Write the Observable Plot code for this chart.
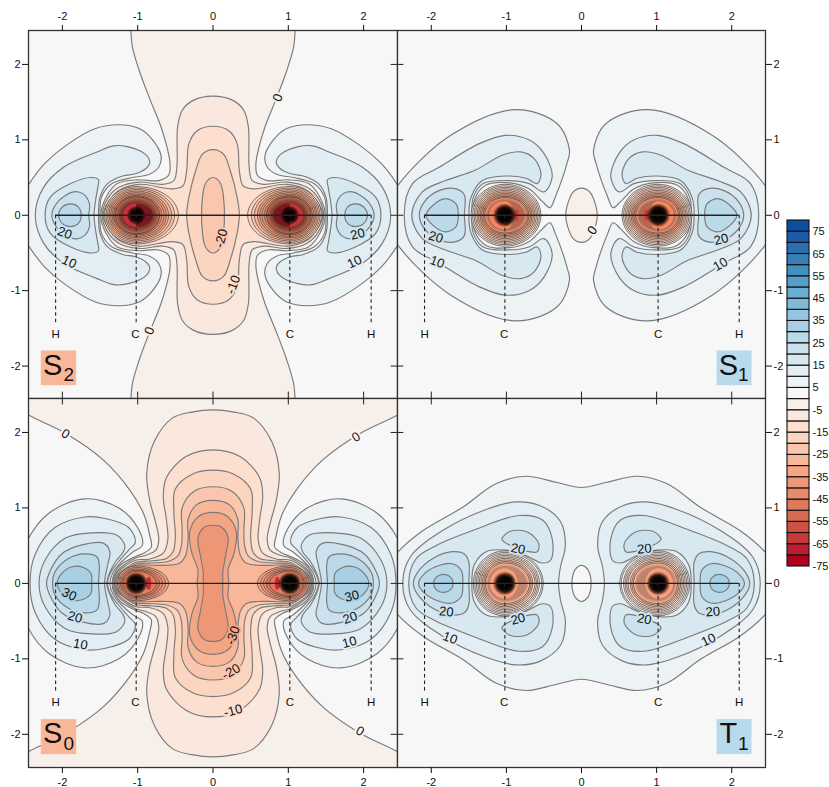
<!DOCTYPE html>
<html><head><meta charset="utf-8">
<script src="https://cdn.jsdelivr.net/npm/d3@7"></script>
<script src="https://cdn.jsdelivr.net/npm/@observablehq/plot@0.6"></script>
<style>html,body{margin:0;background:#fff}#c{position:relative;width:829px;height:787px;overflow:hidden}#c svg{position:absolute}</style>
</head><body><div id="c"></div>
<script>
// colour bands, low to high; band k covers [bandLows[k], bandLows[k]+5]
const bandLows=d3.range(-75,80,5);
const bandColors=["#b2001f","#bb1f2e","#c53a39","#cf5044","#d66a51","#e0785c","#e88a6b","#ee9777","#f4a584","#f8b799","#fac7ae","#fcd5c0","#fddfcf","#fae8de","#f7efea","#f7f7f7","#edf2f5","#e2eef3","#d8e8f1","#cbe2ee","#bad9e9","#a8cfe4","#96c6df","#7fbad9","#6aaed3","#559fca","#4090c0","#377fb8","#2b6fb0","#1c5ca7","#0a4f9e"];
const barLabels=[75,65,55,45,35,25,15,5,-5,-15,-25,-35,-45,-55,-65,-75];
const axisTicks=[-2,-1,0,1,2];
const atomLineX=[-2.09,2.10];
const atomDropX=[-2.09,-1.02,1.02,2.10];
const atomNames=[{x:-2.09,t:"H"},{x:-1.03,t:"C"},{x:1.02,t:"C"},{x:2.10,t:"H"}];
const carbonX=1.02;

// S2, contours (right lobe, upper half)
const s2L5=[[1.50,0],[1.48,.24],[1.34,.42],[1.07,.50],[.85,.54],[.72,.64],[.69,.79],[.81,1.01],[.98,1.15],[1.25,1.20],[1.56,1.15],[1.96,.92],[2.24,.68],[2.44,.42],[2.56,.22],[2.62,0]];
const s2L10=[[1.52,0],[1.50,.24],[1.40,.42],[1.20,.52],[1.03,.55],[.89,.62],[.84,.70],[.90,.81],[1.14,.91],[1.32,.92],[1.54,.84],[1.98,.64],[2.25,.37],[2.36,0]];
const s2L15=[[1.58,0],[1.56,.19],[1.53,.37],[1.52,.47],[1.61,.50],[1.89,.42],[2.16,.24],[2.23,0]];
const s2L20=[[1.65,0],[1.64,.15],[1.72,.28],[1.85,.31],[2.05,.19],[2.14,0]];
const s2L25=[[1.75,0],[1.79,.11],[1.89,.15],[2.0,.11],[2.05,0]];
// S2 centre cross (upper right quarter)
const s2C0=[[0,3.0],[1.1,2.8],[1.09,2.44],[1.07,2.23],[.98,1.92],[.85,1.57],[.69,1.17],[.61,.90],[.57,.68],[.59,.53],[.72,.46],[1.00,.47],[1.27,.42],[1.42,.24],[1.49,0]];
const s2Cm5=[[0,1.58],[.27,1.52],[.41,1.39],[.47,1.17],[.48,.64],[.52,.46],[.67,.41],[.98,.44],[1.25,.37],[1.40,.22],[1.47,0]];
const s2Cm10=[[0,1.18],[.21,1.12],[.32,.95],[.35,.59],[.40,.39],[.54,.35],[.98,.41],[1.25,.33],[1.38,.19],[1.46,0]];
const s2Cm15=[[0,.87],[.14,.81],[.23,.59],[.32,.24],[.35,0]];
const s2Cm20=[[0,.50],[.10,.42],[.15,.10],[.15,0]];
const s2RingIn=[.56,.51,.47,.43,.40,.37,.34,.31];
const s2RingOut=[.42,.40,.38,.36,.34,.32,.30,.28];
const s2RingY=[.38,.36,.34,.32,.30,.28,.26,.245];
const s2ShadeIn=[.33,.31,.29,.27,.25,.23,.21];
const s2ShadeOut=[.30,.28,.26,.24,.22,.20,.18];
const s2ShadeY=[.27,.25,.23,.21,.19,.17,.155];

// S1
const s1L5=[[1.44,0],[1.42,.22],[1.27,.40],[.96,.43],[.70,.35],[.52,.18],[.42,.10],[.35,.24],[.19,.70],[.16,.86],[.32,1.21],[.88,1.40],[1.74,1.06],[2.45,.39],[2.65,0]];
const s1L10=[[1.46,0],[1.44,.24],[1.31,.42],[.99,.46],[.70,.42],[.50,.31],[.39,.51],[.50,.82],[.70,1.0],[1.01,1.06],[1.36,.95],[1.89,.64],[2.25,.42],[2.36,0]];
const s1L15=[[1.50,0],[1.47,.24],[1.32,.46],[1.01,.52],[.74,.49],[.59,.42],[.54,.55],[.63,.75],[.81,.84],[1.05,.80],[1.41,.60],[1.81,.46],[2.12,.31],[2.26,0]];
const s1L20=[[1.56,0],[1.56,.27],[1.67,.35],[1.89,.33],[2.09,.18],[2.16,0]];
const s1L25=[[1.64,0],[1.67,.15],[1.81,.22],[1.98,.13],[2.07,0]];
const s1Island=[[0,.36],[.11,.31],[.19,.13],[.21,0]];
const s1RingIn=[.48,.46,.44,.42,.40,.38,.36,.34,.32,.30];
const s1RingOut=[.45,.43,.41,.39,.37,.35,.33,.31,.29,.27];
const s1RingY=[.41,.39,.37,.35,.33,.31,.29,.27,.25,.235];
const s1ShadeIn=[.28,.26];
const s1ShadeOut=[.25,.23];
const s1ShadeY=[.22,.20];

// S0
const s0W0=[[1.34,0],[1.31,.13],[1.22,.25],[1.02,.36],[.92,.40],[.82,.48],[.84,.64],[.92,.92],[1.10,1.23],[1.45,1.63],[1.96,1.99],[2.45,2.23],[2.9,2.5],[3.3,0]];
const s0L5=[[1.37,0],[1.33,.14],[1.22,.28],[1.06,.42],[.94,.50],[.99,.72],[1.25,1.0],[1.70,1.12],[2.18,.93],[2.5,.5],[2.62,0]];
const s0L10=[[1.40,0],[1.36,.14],[1.26,.28],[1.12,.44],[1.03,.55],[1.12,.74],[1.43,.86],[1.70,.88],[2.10,.74],[2.36,.39],[2.43,0]];
const s0L15=[[1.41,0],[1.38,.12],[1.30,.28],[1.19,.42],[1.17,.50],[1.28,.64],[1.61,.67],[1.96,.60],[2.23,.31],[2.31,0]];
const s0L20=[[1.44,0],[1.40,.24],[1.37,.42],[1.45,.53],[1.74,.51],[2.01,.39],[2.16,.17],[2.21,0]];
const s0L25=[[1.52,0],[1.51,.24],[1.54,.35],[1.70,.39],[1.92,.33],[2.10,.15],[2.13,0]];
const s0L30=[[1.61,0],[1.62,.13],[1.72,.21],[1.87,.22],[2.01,.13],[2.07,0]];
const s0Cm5=[[0,2.30],[.28,2.27],[.54,2.19],[.78,1.88],[.88,1.46],[.84,1.10],[.76,.80],[.72,.58],[.76,.44],[.90,.37],[1.02,.34],[1.2,.23],[1.30,.12],[1.33,0]];
const s0Cm10=[[0,1.77],[.36,1.68],[.62,1.40],[.66,1.15],[.62,.85],[.60,.58],[.66,.40],[.85,.32],[1.02,.31],[1.18,.22],[1.29,.11],[1.32,0]];
const s0Cm15=[[0,1.50],[.27,1.45],[.50,1.25],[.52,.95],[.50,.62],[.53,.42],[.62,.33],[.80,.30],[1.02,.28],[1.16,.20],[1.28,.10],[1.31,0]];
const s0Cm20=[[0,1.28],[.25,1.22],[.41,1.0],[.41,.72],[.42,.50],[.47,.36],[.60,.29],[.80,.27],[1.02,.26],[1.15,.19],[1.27,.10],[1.30,0]];
const s0Cm25=[[0,1.10],[.22,1.04],[.33,.85],[.33,.60],[.36,.38],[.44,.27],[.60,.24],[.80,.24],[1.02,.24],[1.14,.18],[1.26,.09],[1.29,0]];
const s0Cm30=[[0,.94],[.2,.88],[.31,.68],[.28,.40],[.20,.18],[.21,0]];
const s0Cm35=[[0,.77],[.12,.74],[.20,.60],[.17,.38],[.13,.15],[.13,0]];
const s0RingIn=[.43,.39,.35,.31,.27];
const s0RingOut=[.25,.23,.21,.19,.17];
const s0RingY=[.23,.21,.19,.175,.16];

// T1
const t1P5=[[0,1.27],[.34,1.34],[.74,1.42],[1.14,1.32],[1.58,1.01],[2.11,.70],[2.44,.42],[2.6,.2],[2.66,0]];
const t1Hole=[[0,.24],[.08,.19],[.125,.06],[.125,0]];
const t1L10=[[.305,0],[.28,.22],[.215,.50],[.28,.82],[.55,1.03],[.87,1.08],[1.27,.98],[1.85,.70],[2.28,.35],[2.38,0]];
const t1L15=[[1.46,0],[1.43,.24],[1.27,.42],[1.01,.44],[.74,.37],[.52,.27],[.41,.31],[.39,.59],[.52,.84],[.83,.90],[1.45,.70],[1.94,.50],[2.20,.33],[2.30,0]];
const t1L20=[[1.50,0],[1.50,.28],[1.56,.39],[1.72,.42],[1.98,.33],[2.18,.15],[2.24,0]];
const t1L25=[[1.58,0],[1.60,.17],[1.72,.26],[1.89,.24],[2.09,.13],[2.17,0]];
const t1L30=[[1.71,0],[1.74,.08],[1.83,.12],[1.94,.075],[1.97,0]];
const t1Isle=[[1.06,.59],[.95,.69],[.72,.68],[.57,.53],[.59,.42],[.70,.42],[.94,.50],[1.03,.55]];
const t1RingIn=[.51,.49,.46,.44,.42,.40,.37,.35,.33];
const t1RingOut=[.42,.40,.38,.36,.34,.32,.30,.28,.26];
const t1RingY=[.43,.41,.39,.37,.35,.33,.31,.29,.27];
const t1ShadeIn=[.31,.29];
const t1ShadeOut=[.25,.23];
const t1ShadeY=[.25,.23];

const ringAngles=d3.range(0,360,20);
// contour labels: x, y, text, rotation, band of the halo
const s2Labels=[[.86,1.56,"0",-70,-5],[-.85,-1.53,"0",110,-5],[-1.97,-.235,"20",20,20],[-1.91,-.62,"10",25,10],[.11,-.305,"-20",-75,-25],[.27,-.92,"-10",-70,-15],[1.92,-.25,"20",-15,20],[1.88,-.62,"10",-25,10]];
const s1Labels=[[.146,-.20,"0",-55,-5],[-1.94,-.29,"20",15,20],[-1.92,-.62,"10",20,10],[1.86,-.32,"20",-15,20],[1.85,-.65,"10",-30,10]];
const s0Labels=[[-1.96,1.98,"0",30,0],[1.90,1.94,"0",-30,0],[1.95,-1.96,"0",30,0],[-1.91,-.146,"30",25,30],[-1.83,-.447,"20",15,20],[-1.76,-.81,"10",10,10],[.265,-.69,"-30",-70,-35],[.24,-1.17,"-20",-30,-25],[.265,-1.69,"-10",-15,-15],[1.845,-.17,"30",-15,30],[1.82,-.456,"20",-20,20],[1.81,-.78,"10",-15,10]];
const t1Labels=[[-.845,.456,"20",10,20],[.836,.456,"20",-5,20],[-.845,-.473,"20",-15,20],[.836,-.473,"20",10,20],[-1.80,-.376,"20",5,20],[1.75,-.376,"20",-5,20],[-1.75,-.726,"10",20,10],[1.69,-.75,"10",-25,10]];

const half=p=>[...p,...p.slice().reverse().filter(d=>d[1]!==0).map(([x,y])=>[x,-y])];
const quart=p=>{const a=half(p);return [...a,...a.slice(1,-1).reverse().map(([x,y])=>[-x,y])];};
const flipX=p=>p.map(([x,y])=>[-x,y]);
const flipY=p=>p.map(([x,y])=>[x,-y]);
function ring(rIn,rOut,rY,cx=carbonX){return ringAngles.map(a=>{const c=Math.cos(a*Math.PI/180),s=Math.sin(a*Math.PI/180);return [cx+(c>0?rOut:rIn)*c,rY*s];});}

function build(list){let id=0;const rows=[];for(const [pts,lev,dark] of list){id++;pts.forEach(([x,y])=>rows.push({id,lev,x,y,dark:!!dark}));}return rows;}
const both=(p,lev)=>[[p,lev],[flipX(p),lev]];
const lobes=(arr)=>arr.flatMap(([p,lev])=>both(half(p),lev));
function rings(ri,ro,ry,startBand,cap){return ri.flatMap((_,k)=>both(ring(ri[k],ro[k],ry[k]),Math.max(cap,startBand-5*k)).map(d=>[d[0],d[1],true]));}
function shades(ri,ro,ry){return ri.flatMap((_,k)=>both(ring(ri[k],ro[k],ry[k]),0));}

const panels=[
{left:28,top:30,w:369,h:368,yDom:[-2.43,2.45],xAxis:"top",yAxis:"left",bg:0,core:[9,8,7,6,5,4,3],
 shapes:[...lobes([[s2L5,5],[s2L10,10],[s2L15,15],[s2L20,20],[s2L25,25]]),
  [quart(s2C0),-5],[quart(s2Cm5),-10],[quart(s2Cm10),-15],[quart(s2Cm15),-20],[quart(s2Cm20),-25],
  ...rings(s2RingIn,s2RingOut,s2RingY,-20,-40)],
 shade:shades(s2ShadeIn,s2ShadeOut,s2ShadeY),shadeOpacity:.17,
 labels:s2Labels,inner:{bottom:1,right:1},badge:{x1:-2.28,x2:-1.81,y1:-2.26,y2:-1.80,c:"#f9b79a",a:"S",b:"2",ax:-2.13,bx:-1.915},
 spots:[[.12,.18,.155,1.02,"#c9303c"],[.22,.0,.15,1.02,"#7a1622"]]},
{left:397,top:30,w:368,h:368,yDom:[-2.43,2.45],xAxis:"top",yAxis:"right",bg:0,core:[11,10,9,8.5,8,7,6,5],
 shapes:[...lobes([[s1L5,5],[s1L10,10],[s1L15,15],[s1L20,20],[s1L25,25]]),[quart(s1Island),-5],
  ...rings(s1RingIn,s1RingOut,s1RingY,-5,-40)],
 shade:shades(s1ShadeIn,s1ShadeOut,s1ShadeY),shadeOpacity:.18,
 labels:s1Labels,inner:{bottom:1,left:1},badge:{x1:1.805,x2:2.27,y1:-2.26,y2:-1.80,c:"#b9d9ec",a:"S",b:"1",ax:1.955,bx:2.155},
 spots:[[.12,.21,.19,1.02,"#f08a62"],[.09,.17,.15,1.02,"#e9764f"],[.03,.03,.075,.865,"#dd3036"]]},
{left:28,top:398,w:369,h:369,yDom:[-2.44,2.45],xAxis:"bottom",yAxis:"left",bg:-5,core:[11,10,9,8.5,8,7,6,5],
 shapes:[...both(half(s0W0),0),...lobes([[s0L5,5],[s0L10,10],[s0L15,15],[s0L20,20],[s0L25,25],[s0L30,30]]),
  [quart(s0Cm5),-10],[quart(s0Cm10),-15],[quart(s0Cm15),-20],[quart(s0Cm20),-25],[quart(s0Cm25),-30],[quart(s0Cm30),-35],[quart(s0Cm35),-40],
  ...rings(s0RingIn,s0RingOut,s0RingY,-35,-50)],
 shade:[],shadeOpacity:.1,
 labels:s0Labels,inner:{top:1,right:1},badge:{x1:-2.28,x2:-1.81,y1:-2.27,y2:-1.805,c:"#f9b79a",a:"S",b:"0",ax:-2.13,bx:-1.915},
 spots:[[.2,.15,.15,1.02,"#ea8460"],[.035,.035,.085,.855,"#c8283a"]]},
{left:397,top:398,w:368,h:369,yDom:[-2.44,2.45],xAxis:"bottom",yAxis:"right",bg:0,core:[11,10,9,8.5,8,7,6,5],
 shapes:[[quart(t1P5),5],[quart(t1Hole),0],...lobes([[t1L10,10],[t1L15,15],[t1L20,20],[t1L25,25],[t1L30,30]]),
  ...both(t1Isle,20),...both(flipY(t1Isle),20),
  ...rings(t1RingIn,t1RingOut,t1RingY,5,-30)],
 shade:shades(t1ShadeIn,t1ShadeOut,t1ShadeY),shadeOpacity:.16,
 labels:t1Labels,inner:{top:1,left:1},badge:{x1:1.805,x2:2.27,y1:-2.27,y2:-1.805,c:"#b9d9ec",a:"T",b:"1",ax:1.955,bx:2.155},
 spots:[[.17,.2,.2,1.02,"#f7a07e"],[.13,.16,.16,1.02,"#ee8a66"]]}
];

const colorScale={type:"threshold",domain:bandLows.slice(1),range:bandColors};
const font={fontFamily:"'Liberation Sans',Arial,sans-serif",fontSize:"11px",background:"transparent",color:"#111"};
const xDom=[-2.45,2.45];
const mL=28,mR=40,mT=30,mB=20;
const host=document.getElementById("c");
const closed="catmull-rom-closed";

for(const p of panels){
  const rows=build(p.shapes);
  const shadeRows=build(p.shade);
  const lab=p.labels.map(([x,y,t,r,b])=>({x,y,t,r,b}));
  const marks=[
    Plot.frame({fill:bandColors[bandLows.indexOf(p.bg)],stroke:"none"}),
    Plot.line(rows.filter(d=>!d.dark),{x:"x",y:"y",z:"id",fill:"lev",stroke:"#7a7a7a",strokeWidth:1.15,curve:closed,clip:"frame"}),
    Plot.line(rows.filter(d=>d.dark),{x:"x",y:"y",z:"id",fill:"lev",stroke:"#5a4e48",strokeWidth:.8,curve:closed,clip:"frame"}),
    Plot.line(shadeRows,{x:"x",y:"y",z:"id",fill:"#3a0d08",fillOpacity:p.shadeOpacity,stroke:"none",curve:closed}),
    ...p.spots.flatMap(([ri,ro,ry,cx,c])=>both(ring(ri,ro,ry,cx),0).map(([pts])=>
      Plot.line(pts.map(([x,y])=>({x,y})),{x:"x",y:"y",fill:c,stroke:"none",curve:closed}))),
    Plot.dot(p.core.flatMap(r=>[{x:carbonX,r},{x:-carbonX,r}]),{x:"x",y:()=>0,r:d=>d.r,fill:"#000",fillOpacity:.36,stroke:"none"}),
    Plot.ruleY([0],{x1:atomLineX[0],x2:atomLineX[1],stroke:"#222",strokeWidth:1.3}),
    Plot.ruleX(atomDropX,{y1:0,y2:-1.44,stroke:"#222",strokeWidth:1.1,strokeDasharray:"3.5,3"}),
    Plot.text(atomNames,{x:"x",y:()=>-1.575,text:"t",fontSize:11.5,fill:"#111"}),
    Plot.text(lab,{x:"x",y:"y",text:"t",rotate:"r",fontSize:13,fill:"#111",stroke:"b",strokeWidth:4,strokeLinejoin:"round"}),
    Plot.rect([p.badge],{x1:"x1",x2:"x2",y1:"y1",y2:"y2",fill:"c",stroke:"none"}),
    Plot.text([p.badge],{x:"ax",y:d=>d.y1*.5+d.y2*.5+.04,text:"a",fontSize:29,fill:"#111"}),
    Plot.text([p.badge],{x:"bx",y:d=>d.y1+.14,text:"b",fontSize:19,fill:"#111"}),
    Plot.frame({stroke:"#333",strokeWidth:1.3}),
    Plot.axisX({anchor:p.xAxis,ticks:axisTicks,tickSize:6,tickPadding:5,label:null,tickFormat:d=>String(d)}),
    Plot.axisY({anchor:p.yAxis,ticks:axisTicks,tickSize:6,tickPadding:2,label:null,tickFormat:d=>String(d)})
  ];
  const tick=.085;
  if(p.inner.bottom)marks.push(Plot.ruleX(axisTicks,{y1:p.yDom[0],y2:p.yDom[0]+tick,stroke:"#222"}));
  if(p.inner.top)marks.push(Plot.ruleX(axisTicks,{y1:p.yDom[1],y2:p.yDom[1]-tick,stroke:"#222"}));
  if(p.inner.right)marks.push(Plot.ruleY(axisTicks,{x1:xDom[1],x2:xDom[1]-tick,stroke:"#222"}));
  if(p.inner.left)marks.push(Plot.ruleY(axisTicks,{x1:xDom[0],x2:xDom[0]+tick,stroke:"#222"}));
  const svg=Plot.plot({width:mL+p.w+mR,height:mT+p.h+mB,marginLeft:mL,marginRight:mR,marginTop:mT,marginBottom:mB,
    x:{domain:xDom,axis:null},y:{domain:p.yDom,axis:null},r:{type:"identity"},color:colorScale,style:font,marks});
  svg.style.left=(p.left-mL)+"px";svg.style.top=(p.top-mT)+"px";
  host.appendChild(svg);
}

const bar=Plot.plot({width:59,height:366,marginLeft:17,marginRight:20,marginTop:10,marginBottom:10,
  x:{domain:[0,1],axis:null},y:{domain:[-75,80],axis:null},color:colorScale,style:font,marks:[
  Plot.rect(bandLows,{x1:()=>0,x2:()=>1,y1:d=>d,y2:d=>d+5,fill:d=>d,stroke:"#111",strokeWidth:1.1}),
  Plot.axisY({anchor:"right",ticks:barLabels,tickSize:0,tickPadding:3,label:null,tickFormat:d=>String(d)})
]});
bar.style.left="770px";bar.style.top="210px";
host.appendChild(bar);
</script></body></html>
